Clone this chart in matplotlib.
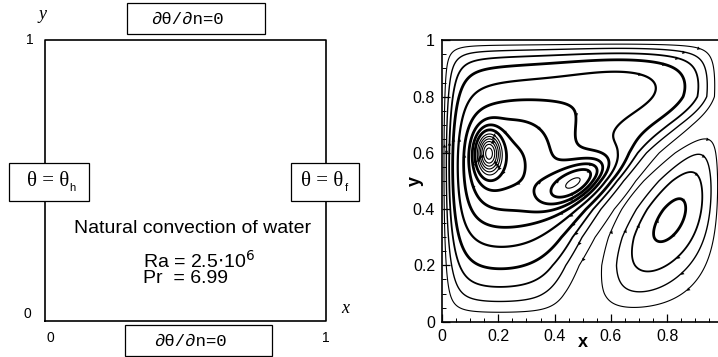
import numpy as np
import matplotlib
matplotlib.use("Agg")
import matplotlib.pyplot as plt
from matplotlib.patches import Rectangle

plt.rcParams['font.family'] = ['Liberation Sans', 'DejaVu Sans']

# streamline picture
# upper-left cell: broad part, band along the lid, two cores (x, y, strength, sx, sy, angle)
ul_x = [0.20, 0.72, 0.165, 0.50]
ul_y = [0.55, 0.86, 0.60, 0.50]
ul_a = [0.60, 0.30, 0.35, 0.33]
ul_sx = [0.45, 0.33, 0.045, 0.15]
ul_sy = [0.40, 0.20, 0.075, 0.07]
ul_ang = [0, 0, 0, 30]
# lower-right cell
lr_x = [0.81]
lr_y = [0.37]
lr_a = [0.29]
lr_sx = [0.33]
lr_sy = [0.17]
lr_ang = [55]
# centre line of the diagonal channel between the cells
chan_y = [0.0, 0.1, 0.2, 0.3, 0.4, 0.5, 0.6, 0.7, 0.8]
chan_x = [0.48, 0.49, 0.51, 0.55, 0.61, 0.69, 0.79, 0.92, 1.06]
chan_off = 0.05
chan_w = 0.03
wall_delta = 0.07

# contour levels and line widths
levels = [0.05, 0.11, 0.18, 0.26, 0.36, 0.45, 0.52, 0.58, 0.64,
          0.70, 0.74, 0.78, 0.82, 0.86, 0.90]
widths = [0.8, 1.0, 1.3, 2.0, 1.6, 2.0, 2.0, 2.0, 2.0,
          0.8, 0.8, 0.8, 0.8, 0.8, 0.8]

ticks = [0, 0.2, 0.4, 0.6, 0.8, 1]
xtick_labels = ['0', '0.2', '0.4', '0.6', '0.8', '']
ytick_labels = ['0', '0.2', '0.4', '0.6', '0.8', '1']


def gauss(x, y, cx, cy, a, sx, sy, ang):
    t = np.deg2rad(ang)
    dx = x - cx
    dy = y - cy
    u = dx * np.cos(t) + dy * np.sin(t)
    v = -dx * np.sin(t) + dy * np.cos(t)
    return a * np.exp(-(u / sx) ** 2 - (v / sy) ** 2)


def sigmoid(q):
    return 1 / (1 + np.exp(-np.clip(q, -50, 50)))


def stream_function(x, y):
    ul = sum(gauss(x, y, ul_x[i], ul_y[i], ul_a[i], ul_sx[i], ul_sy[i], ul_ang[i])
             for i in range(len(ul_x)))
    lr = sum(gauss(x, y, lr_x[i], lr_y[i], lr_a[i], lr_sx[i], lr_sy[i], lr_ang[i])
             for i in range(len(lr_x)))
    d = (x - np.interp(y, chan_y, chan_x)) * 0.75
    s_ul = sigmoid(-(d + chan_off) / chan_w)
    s_lr = sigmoid((d - chan_off) / chan_w)
    w = lambda q: np.tanh(q / wall_delta)
    return w(x) * w(1 - x) * w(y) * w(1 - y) * (s_ul * ul + s_lr * lr)


fig = plt.figure(figsize=(7.18, 3.57), dpi=100)
W, H = 718.0, 357.0


def fig_box(x0, y0, x1, y1):
    # box given in picture pixels from top-left
    fig.patches.append(Rectangle((x0 / W, 1 - y1 / H), (x1 - x0) / W, (y1 - y0) / H,
                                 transform=fig.transFigure, fc='white', ec='k',
                                 lw=0.9, zorder=5))


# ---- left panel: the cavity sketch ----
ax1 = fig.add_axes([45 / W, 1 - 321 / H, 281 / W, 281 / H])
ax1.set_xlim(0, 1)
ax1.set_ylim(0, 1)
ax1.axis('off')
ax1.plot([0, 0, 1, 1, 0], [0, 1, 1, 0, 0], color='k', lw=1.2, clip_on=False)

fs = 10
ax1.text(-0.04, 1.0, '1', ha='right', va='center', fontsize=fs)
ax1.text(-0.05, 0.025, '0', ha='right', va='center', fontsize=fs)
ax1.text(0.02, -0.06, '0', ha='center', va='center', fontsize=fs)
ax1.text(1.0, -0.06, '1', ha='center', va='center', fontsize=fs)
ax1.text(-0.01, 1.09, 'y', ha='center', va='center', fontsize=13, style='italic',
         family='Liberation Serif')
ax1.text(1.07, 0.045, 'x', ha='center', va='center', fontsize=13, style='italic',
         family='Liberation Serif')

fig_box(127, 3, 265, 34)
fig_box(125, 325, 272, 356)
fig_box(9, 163, 89, 201)
fig_box(291, 163, 359, 201)

fig.text(187 / W, 1 - 19 / H, '\u2202\u03b8/\u2202n=0', ha='center', va='center',
         fontsize=12.5, family=['Liberation Mono', 'DejaVu Sans'], zorder=6)
fig.text(190 / W, 1 - 341 / H, '\u2202\u03b8/\u2202n=0', ha='center', va='center',
         fontsize=12.5, family=['Liberation Mono', 'DejaVu Sans'], zorder=6)
fig.text(48 / W, 1 - 182 / H, '\u03b8 = \u03b8', ha='center', va='center', fontsize=15,
         family='Liberation Serif', zorder=6)
fig.text(72 / W, 1 - 188 / H, 'h', ha='center', va='center', fontsize=8, zorder=6)
fig.text(322 / W, 1 - 182 / H, '\u03b8 = \u03b8', ha='center', va='center', fontsize=15,
         family='Liberation Serif', zorder=6)
fig.text(346 / W, 1 - 188 / H, 'f', ha='center', va='center', fontsize=8, zorder=6)

ax1.text(0.525, 0.33, 'Natural convection of water', ha='center', va='center', fontsize=14)
ax1.text(0.35, 0.215, r'Ra = 2.5$\cdot$10$^6$', ha='left', va='center', fontsize=14)
ax1.text(0.35, 0.15, 'Pr  = 6.99', ha='left', va='center', fontsize=14)

# ---- right panel: streamlines ----
ax2 = fig.add_axes([442 / W, 1 - 321.7 / H, 281.5 / W, 281.4 / H])
gx = np.linspace(0, 1, 401)
X, Y = np.meshgrid(gx, gx)
P = stream_function(X, Y)
cs = ax2.contour(X, Y, P, levels=levels, colors='k', linewidths=widths)

# small arrow heads along the lines, direction from the velocity field
dPy, dPx = np.gradient(P, gx, gx)
n = len(gx) - 1
for path in cs.get_paths():
    for poly in path.to_polygons(closed_only=False):
        if len(poly) < 100:
            continue
        for k in range(len(poly) // 7, len(poly), len(poly) // 3):
            px, py = poly[k]
            ix = min(int(round(px * n)), n)
            iy = min(int(round(py * n)), n)
            u = -dPy[iy, ix]
            v = dPx[iy, ix]
            ang = np.degrees(np.arctan2(v, u))
            ax2.plot(px, py, marker=(3, 0, ang - 90), ms=3, color='k', mew=0)

ax2.set_xlim(0, 1)
ax2.set_ylim(0, 1)
ax2.set_xticks(ticks)
ax2.set_xticklabels(xtick_labels)
ax2.set_yticks(ticks)
ax2.set_yticklabels(ytick_labels)
ax2.set_xticks(np.arange(0, 1.001, 0.05), minor=True)
ax2.set_yticks(np.arange(0, 1.001, 0.05), minor=True)
ax2.tick_params(which='both', direction='in', labelsize=11.5, top=False, right=False,
                pad=5)
ax2.tick_params(which='major', length=6, width=0.9)
ax2.tick_params(which='minor', length=3, width=0.7)
for s in ax2.spines.values():
    s.set_linewidth(1.2)
ax2.set_xlabel('x', fontweight='bold', fontsize=13)
ax2.xaxis.set_label_coords(0.5, -0.045)
ax2.set_ylabel('y', fontweight='bold', fontsize=13)
ax2.yaxis.set_label_coords(-0.065, 0.5)

fig.savefig('out.png', dpi=100)
